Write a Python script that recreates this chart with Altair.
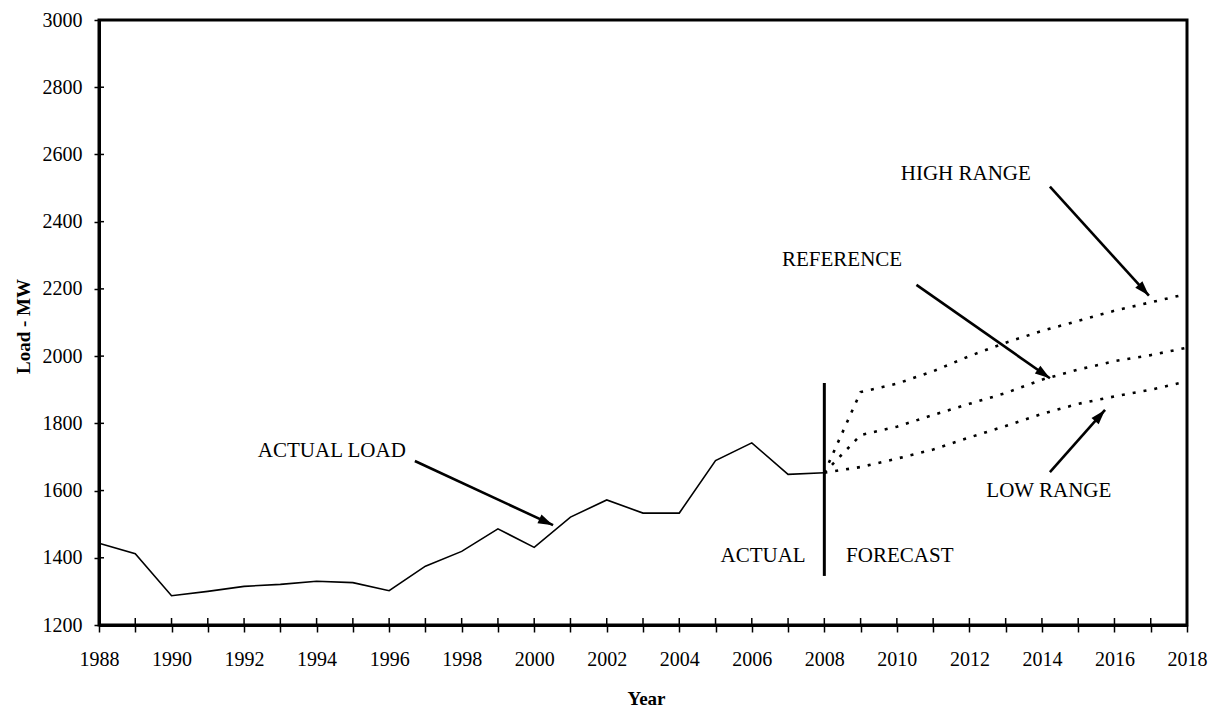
import math
import altair as alt
import pandas as pd

# ---------------- data ----------------
actual_years = list(range(1988, 2009))
actual_load = [1443, 1412, 1287, 1300, 1315, 1321, 1330, 1326, 1302, 1375, 1419,
               1486, 1431, 1521, 1572, 1533, 1533, 1689, 1742, 1648, 1653]

forecast_years = list(range(2008, 2019))
high_range = [1653, 1893, 1918, 1955, 2000, 2040, 2075, 2105, 2135, 2160, 2185]
reference = [1653, 1765, 1790, 1825, 1858, 1890, 1930, 1960, 1985, 2003, 2025]
low_range = [1653, 1670, 1695, 1722, 1758, 1792, 1828, 1858, 1880, 1900, 1925]

label_texts = ["ACTUAL LOAD", "HIGH RANGE", "REFERENCE", "LOW RANGE", "ACTUAL", "FORECAST"]
label_years = [1994.42, 2011.9, 2008.49, 2014.19, 2006.31, 2010.08]
label_loads = [1718, 2542, 2286, 1599, 1404, 1404]

arrow_from_year = [1996.71, 2014.22, 2010.54, 2014.22]
arrow_from_load = [1688, 2504, 2212, 1655]
arrow_to_year = [2000.52, 2016.95, 2014.22, 2015.74]
arrow_to_load = [1497, 2180, 1934, 1840]

divider_year = [2008]
divider_from = [1346]
divider_to = [1920]

x_ticks = list(range(1988, 2019))
y_ticks = list(range(1200, 3001, 200))

# ---------------- layout ----------------
W, H = 1088, 605
X0, X1 = 1988, 2018
Y0, Y1 = 1200, 3000
FONT = "Liberation Serif"

# ---------------- tables ----------------
actual_df = pd.DataFrame({"year": actual_years, "load": actual_load})
fc_rows = []
for name, vals in [("High", high_range), ("Reference", reference), ("Low", low_range)]:
    for yr, v in zip(forecast_years, vals):
        fc_rows.append({"year": yr, "load": v, "series": name})
fc_df = pd.DataFrame(fc_rows)

text_df = pd.DataFrame({"year": label_years, "load": label_loads, "label": label_texts})

pxy = W / (X1 - X0)
pxm = H / (Y1 - Y0)
angles = []
for fy, fl, ty, tl in zip(arrow_from_year, arrow_from_load, arrow_to_year, arrow_to_load):
    a = math.degrees(math.atan2((ty - fy) * pxy, (tl - fl) * pxm)) % 360
    angles.append(a)
arrow_df = pd.DataFrame({"year": arrow_from_year, "load": arrow_from_load,
                         "year2": arrow_to_year, "load2": arrow_to_load})
head_df = pd.DataFrame({"year": arrow_to_year, "load": arrow_to_load, "angle": angles})

div_df = pd.DataFrame({"year": divider_year, "load": divider_from, "load2": divider_to})
xt_df = pd.DataFrame({"year": x_ticks, "load": [Y0] * len(x_ticks)})
yt_df = pd.DataFrame({"year": [X0] * len(y_ticks), "load": y_ticks})

# ---------------- encodings ----------------
x_enc = alt.X(
    "year:Q",
    scale=alt.Scale(domain=[X0, X1], nice=False, zero=False),
    axis=alt.Axis(
        values=x_ticks,
        labelExpr="datum.value % 2 == 0 ? datum.label : ''",
        format="d",
        title="Year",
        titleFont=FONT, titleFontSize=19, titleFontWeight="bold", titleColor="black",
        titleBaseline="alphabetic", titleY=79, titleX=W / 2 + 3,
        labelFont=FONT, labelFontSize=20, labelColor="black", labelPadding=17,
        labelFlush=False, labelOverlap=False,
        tickSize=7, tickColor="black", tickWidth=1.5,
        domainColor="black", domainWidth=3, grid=False,
    ),
)
y_enc = alt.Y(
    "load:Q",
    scale=alt.Scale(domain=[Y0, Y1], nice=False, zero=False),
    axis=alt.Axis(
        values=y_ticks,
        format="d",
        title="Load - MW",
        titleFont=FONT, titleFontSize=19, titleFontWeight="bold", titleColor="black",
        titleBaseline="alphabetic", titleAngle=270, titleX=-70, titleY=306,
        labelFont=FONT, labelFontSize=20, labelColor="black", labelPadding=12,
        labelFlush=False, labelOverlap=False,
        tickSize=5, tickColor="black", tickWidth=1.5,
        domainColor="black", domainWidth=3, grid=False,
    ),
)

actual_line = alt.Chart(actual_df).mark_line(color="black", strokeWidth=1.6).encode(
    x=x_enc, y=y_enc)

fc_lines = alt.Chart(fc_df).mark_line(
    color="black", strokeWidth=2.6, strokeDash=[3, 8]
).encode(x=x_enc, y=y_enc, detail="series:N")

divider = alt.Chart(div_df).mark_rule(color="black", strokeWidth=3).encode(
    x=x_enc, y=y_enc, y2="load2:Q")

arrows = alt.Chart(arrow_df).mark_rule(color="black", strokeWidth=2.6).encode(
    x=x_enc, y=y_enc, x2="year2:Q", y2="load2:Q")

heads = alt.Chart(head_df).mark_point(
    shape="M0,0 L-0.32,1 L0.32,1 Z", filled=True, color="black", opacity=1, size=900
).encode(x=x_enc, y=y_enc, angle=alt.Angle("angle:Q", scale=None))

texts = alt.Chart(text_df).mark_text(
    font=FONT, fontSize=21, color="black", align="center", baseline="middle"
).encode(x=x_enc, y=y_enc, text="label:N")

x_inner = alt.Chart(xt_df).mark_tick(
    orient="vertical", size=7, thickness=1.5, color="black", yOffset=-3.5, opacity=1
).encode(x=x_enc, y=y_enc)

y_inner = alt.Chart(yt_df).mark_tick(
    orient="horizontal", size=5, thickness=1.5, color="black", xOffset=2.5, opacity=1
).encode(x=x_enc, y=y_enc)

chart = alt.layer(
    actual_line, fc_lines, divider, arrows, heads, texts, x_inner, y_inner
).properties(
    width=W, height=H,
    autosize=alt.AutoSizeParams(type="none"),
    padding={"left": 91, "top": 12, "right": 23, "bottom": 84},
    background="white",
).configure_view(stroke="black", strokeWidth=3)

chart.save("out.html", embed_options={"renderer": "svg", "actions": False})
